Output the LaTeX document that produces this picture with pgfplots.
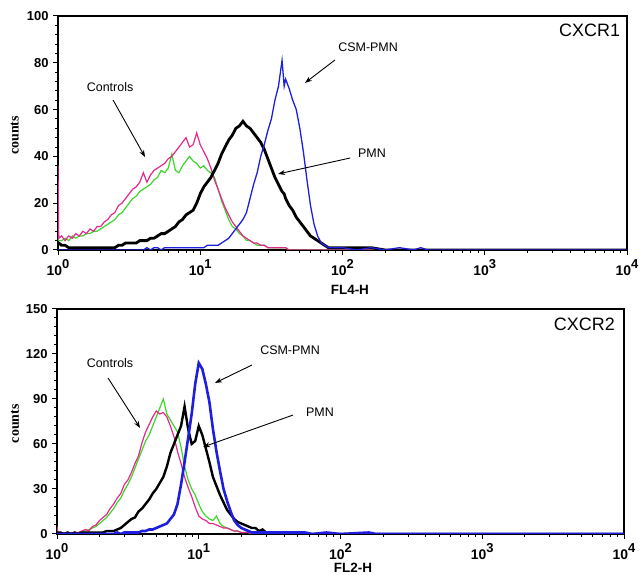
\documentclass[border=0pt]{standalone}
\usepackage{pgfplots}
\usepackage{pgfplotstable}
\pgfplotsset{compat=1.18}
\usepackage{fontspec}
\setmainfont{Liberation Sans}
\newfontfamily\serifbf{Liberation Serif}
\usetikzlibrary{arrows.meta}
\definecolor{cpink}{RGB}{228,40,140}
\definecolor{cgreen}{RGB}{60,215,40}
\definecolor{cblue}{RGB}{30,30,225}
\newcommand\xl[1]{\fontsize{14}{14}\selectfont\bfseries 10\raisebox{1.0ex}{\fontsize{13}{13}\selectfont\bfseries #1}}
\tikzset{
  annot/.style={font=\fontsize{12.5}{12.5}\selectfont},
  arr/.style={-{Stealth[length=7bp,width=5bp]}, line width=0.9bp},
}

% CXCR1: L = log10(FL4-H), counts of Controls (pink, green), PMN (black), CSM-PMN (blue)
\pgfplotstableread{
L     P   G   K   B
0.000 36  5   3   0
0.005 5   4   3   0
0.025 6   4   2   0
0.050 4   5   2   0
0.075 6   4   1   0
0.100 5   6   1   0
0.125 7   5   1   0
0.150 6   6   1   0
0.175 8   6   1   0
0.200 7   7   1   0
0.225 9   7   1   0
0.250 8   8   1   0
0.275 10  8   1   0
0.300 10  9   1   0
0.325 12  10  1   0
0.350 13  11  1   0
0.375 15  12  1   0
0.400 16  13  1   0
0.425 19  15  2   0
0.450 20  16  2   0
0.475 22  18  3   0
0.500 24  20  3   0
0.525 26  22  3   0
0.550 27  23  3   0
0.575 29  25  4   0
0.600 33  26  4   0
0.625 29  27  4   1
0.650 32  28  5   0
0.675 34  30  5   1
0.700 35  31  6   1
0.725 36  34  7   0
0.750 37  33  7   1
0.775 39  35  8   1
0.800 40  41  9   1
0.825 42  34  10  1
0.850 44  33  12  1
0.875 46  36  13  1
0.900 48  38  15  1
0.925 44  40  16  1
0.950 45  38  17  1
0.975 50  37  20  1
1.000 45  35  24  1
1.025 42  36  27  1
1.050 39  34  29  2
1.075 35  33  31  2
1.100 30  31  34  2
1.125 26  26  37  2
1.150 22  21  41  3
1.175 18  17  44  4
1.200 15  13  47  5
1.225 12  10  49  7
1.250 10  9   52  9
1.275 8   7   53  11
1.300 6   6   55  13
1.325 5   4   53  16
1.350 4   4   52  22
1.375 3   3   50  28
1.400 3   2   48  33
1.425 2   2   46  40
1.450 2   2   43  45
1.475 1   1   39  51
1.500 1   1   35  56
1.525 1   1   31  64
1.550 1   1   28  70
1.575 1   1   25  81
1.590 1   1   24  70
1.600 1   1   22  73
1.625 0   0   19  69
1.650 0   0   17  64
1.675 0   0   14  60
1.700 0   0   12  52
1.725 0   0   10  42
1.750 0   0   8   30
1.775 0   0   6   19
1.800 0   0   5   11
1.825 0   0   4   6
1.850 0   0   3   3
1.875 0   0   2   2
1.900 0   0   1   1
1.925 0   0   1   1
1.950 0   0   1   1
1.975 0   0   1   1
2.000 0   0   1   1
2.100 0   0   1   0
2.200 0   0   1   1
2.300 0   0   0   0
2.400 0   0   0   1
2.500 0   0   0   0
2.550 0   0   0   1
2.600 0   0   0   0
4.000 0   0   0   0
}\cxcrone

% CXCR2: L = log10(FL2-H)
\pgfplotstableread{
L     P   G   K   B
0.000 5   1   1   0
0.005 1   0   1   0
0.025 0   0   1   0
0.050 1   0   0   0
0.075 0   1   1   0
0.100 1   0   0   0
0.125 0   1   1   0
0.150 1   1   0   0
0.175 2   1   1   0
0.200 3   2   1   0
0.225 2   3   1   0
0.250 5   4   1   0
0.275 6   5   1   0
0.300 9   7   1   0
0.325 11  9   1   0
0.350 13  11  2   0
0.375 17  14  2   0
0.400 20  17  2   0
0.425 24  21  3   1
0.450 27  24  4   0
0.475 33  29  6   1
0.500 36  33  8   1
0.525 41  38  10  1
0.550 47  44  11  1
0.575 52  50  15  1
0.600 61  56  17  2
0.625 68  62  20  2
0.650 73  66  23  3
0.675 78  72  27  3
0.700 82  78  30  4
0.725 80  84  34  5
0.750 81  90  38  6
0.775 78  80  45  7
0.800 72  76  54  10
0.825 65  72  60  13
0.850 55  68  66  20
0.875 47  58  72  33
0.900 38  45  85  48
0.925 31  36  70  64
0.950 25  30  60  80
0.975 18  26  62  100
1.000 12  20  72  114
1.025 10  15  66  110
1.050 9   12  57  100
1.075 7   10  48  88
1.100 7   9   38  70
1.125 6   12  32  55
1.150 5   7   26  42
1.175 4   5   21  30
1.200 4   4   16  22
1.225 3   3   13  15
1.250 2   2   10  9
1.275 2   2   8   6
1.300 1   1   7   4
1.325 1   1   6   3
1.350 1   1   5   2
1.375 0   0   4   1
1.400 0   0   4   1
1.425 0   0   2   1
1.450 0   0   3   1
1.475 0   0   1   1
1.500 0   0   1   1
1.550 0   0   1   1
1.600 0   0   1   1
1.650 0   0   0   1
1.700 0   0   0   1
1.750 0   0   0   1
1.800 0   0   0   0
1.900 0   0   0   1
2.000 0   0   0   0
2.200 0   0   0   1
2.250 0   0   0   0
4.000 0   0   0   0
}\cxcrtwo

\pgfplotsset{
  flow/.style={
    scale only axis,
    xmin=0, xmax=4, ymin=0,
    xtick={0,1,2,3,4},
    xticklabels={\xl{0},\xl{1},\xl{2},\xl{3},\xl{4}},
    minor xtick={0.301,0.477,0.602,0.699,0.778,0.845,0.903,0.954,
                 1.301,1.477,1.602,1.699,1.778,1.845,1.903,1.954,
                 2.301,2.477,2.602,2.699,2.778,2.845,2.903,2.954,
                 3.301,3.477,3.602,3.699,3.778,3.845,3.903,3.954},
    xtick pos=left, ytick pos=left,
    tick align=outside,
    major tick length=5bp, minor tick length=3bp,
    every tick/.style={black, line width=1bp},
    minor y tick num=4,
    /pgf/number format/assume math mode=true,
    yticklabel style={font=\fontsize{13}{13}\selectfont\bfseries, xshift=-1bp},
    xticklabel style={yshift=-1bp},
    axis line style={line width=1.8bp},
    ylabel style={font=\serifbf\fontsize{14}{14}\selectfont\bfseries},
    xlabel style={font=\fontsize{13.5}{13.5}\selectfont\bfseries},
  }
}

\begin{document}
\begin{tikzpicture}[x=1bp,y=1bp]
\path[use as bounding box] (0,0) rectangle (644,577);

% Top panel: CXCR1
\begin{axis}[flow,
  at={(58bp,327bp)}, anchor=south west,
  width=569bp, height=234bp,
  ymax=100, ytick={0,20,40,60,80,100},
  ylabel={counts}, ylabel style={at={(axis description cs:-0.076,0.49)}, anchor=center},
  xlabel={FL4-H}, xlabel style={at={(axis description cs:0.513,-0.171)}, anchor=center},
]
\addplot[cgreen, line width=1.2bp] table[x=L, y=G] {\cxcrone};
\addplot[cpink, line width=1.2bp] table[x=L, y=P] {\cxcrone};
\addplot[black, line width=2.8bp] table[x=L, y=K] {\cxcrone};
\addplot[cblue, line width=1.3bp] table[x=L, y=B] {\cxcrone};
\node[anchor=north east, inner sep=0pt, font=\fontsize{18}{18}\selectfont] at (rel axis cs:0.988,0.968) {CXCR1};
\node[annot] at (axis cs:0.366,69.7) {Controls};
\draw[arr] (axis cs:0.387,64.1) -- (axis cs:0.612,39.7);
\node[annot] at (axis cs:2.18,86.8) {CSM-PMN};
\draw[arr] (axis cs:1.947,81.2) -- (axis cs:1.736,71.4);
\node[annot] at (axis cs:2.207,41.5) {PMN};
\draw[arr] (axis cs:2.053,39.3) -- (axis cs:1.547,32.5);
\end{axis}

% Bottom panel: CXCR2
\begin{axis}[flow,
  at={(57bp,43bp)}, anchor=south west,
  width=567bp, height=225bp,
  ymax=150, ytick={0,30,60,90,120,150},
  ylabel={counts}, ylabel style={at={(axis description cs:-0.074,0.49)}, anchor=center},
  xlabel={FL2-H}, xlabel style={at={(axis description cs:0.522,-0.150)}, anchor=center},
]
\addplot[cgreen, line width=1.2bp] table[x=L, y=G] {\cxcrtwo};
\addplot[cpink, line width=1.2bp] table[x=L, y=P] {\cxcrtwo};
\addplot[black, line width=2.4bp] table[x=L, y=K] {\cxcrtwo};
\addplot[cblue, line width=2.6bp] table[x=L, y=B] {\cxcrtwo};
\node[anchor=north east, inner sep=0pt, font=\fontsize{18}{18}\selectfont] at (rel axis cs:0.984,0.962) {CXCR2};
\node[annot] at (axis cs:0.374,114) {Controls};
\draw[arr] (axis cs:0.36,104) -- (axis cs:0.586,70.7);
\node[annot] at (axis cs:1.644,122.7) {CSM-PMN};
\draw[arr] (axis cs:1.376,112.7) -- (axis cs:1.115,100.7);
\node[annot] at (axis cs:1.855,81.3) {PMN};
\draw[arr] (axis cs:1.665,79.3) -- (axis cs:1.03,58);
\end{axis}
\end{tikzpicture}
\end{document}
